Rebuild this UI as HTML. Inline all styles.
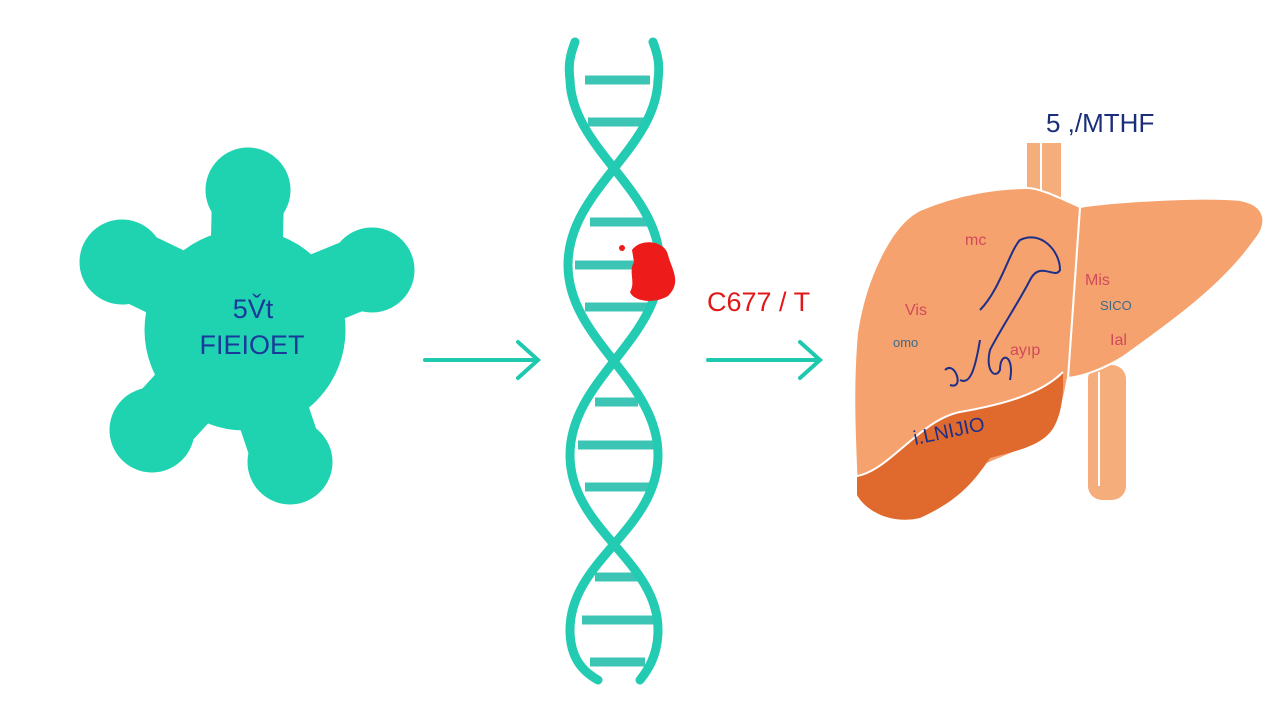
<!DOCTYPE html>
<html><head><meta charset="utf-8"><style>
html,body{margin:0;padding:0;background:#fff;}
svg{display:block;}
text{font-family:"Liberation Sans",sans-serif;}
</style></head><body>
<svg width="1280" height="720" viewBox="0 0 1280 720" xmlns="http://www.w3.org/2000/svg">
<rect width="1280" height="720" fill="#fff"/>
<!-- blob -->
<g fill="#1fd3b1" stroke="#1fd3b1" stroke-linecap="round">
  <circle cx="248" cy="190" r="42"/>
  <circle cx="122" cy="262" r="42"/>
  <circle cx="372" cy="270" r="42"/>
  <circle cx="152" cy="430" r="42"/>
  <circle cx="290" cy="462" r="42"/>
  <circle cx="245" cy="330" r="100"/>
  <line x1="245" y1="320" x2="248" y2="195" stroke-width="72"/>
  <line x1="245" y1="320" x2="125" y2="262" stroke-width="72"/>
  <line x1="245" y1="320" x2="368" y2="270" stroke-width="72"/>
  <line x1="245" y1="330" x2="155" y2="428" stroke-width="72"/>
  <line x1="245" y1="330" x2="288" y2="458" stroke-width="72"/>
</g>
<text x="253" y="318" font-size="27" fill="#1a3a9a" text-anchor="middle">5V̌t</text>
<text x="252" y="354" font-size="27" fill="#1a3a9a" text-anchor="middle">FIEIOET</text>
<!-- arrows -->
<g stroke="#1fc9ad" stroke-width="4" fill="none" stroke-linecap="round">
  <line x1="425" y1="360" x2="538" y2="360"/>
  <polyline points="518,342 538,360 518,378"/>
  <line x1="708" y1="360" x2="820" y2="360"/>
  <polyline points="800,342 820,360 800,378"/>
</g>
<!-- DNA rungs -->
<g stroke="#3cc4b4" stroke-width="9">
  <line x1="585" y1="80" x2="650" y2="80"/>
  <line x1="588" y1="122" x2="645" y2="122"/>
  <line x1="590" y1="222" x2="650" y2="222"/>
  <line x1="575" y1="265" x2="660" y2="265"/>
  <line x1="585" y1="307" x2="650" y2="307"/>
  <line x1="595" y1="402" x2="638" y2="402"/>
  <line x1="578" y1="445" x2="655" y2="445"/>
  <line x1="585" y1="487" x2="650" y2="487"/>
  <line x1="595" y1="577" x2="640" y2="577"/>
  <line x1="582" y1="620" x2="655" y2="620"/>
  <line x1="590" y1="662" x2="645" y2="662"/>
</g>
<g stroke="#22cbb2" stroke-width="9" fill="none" stroke-linecap="round">
  <path d="M575,42 C570,55 568,65 570,80 C572,150 660,190 660,265 C660,340 570,380 570,455 C570,530 658,560 658,630 C658,655 648,670 640,680"/>
  <path d="M653,42 C658,55 660,65 658,80 C656,150 568,190 568,265 C568,340 658,380 658,455 C658,530 570,560 570,630 C570,655 580,670 598,680"/>
</g>
<!-- mutation -->
<path d="M632,250 C640,238 665,240 668,255 C672,270 682,282 668,296 C655,304 634,302 630,292 C636,282 628,272 634,262 Z" fill="#ee1b1b"/>
<circle cx="622" cy="248" r="3" fill="#ee1b1b"/>
<text x="707" y="311" font-size="27" fill="#e01818">C677 / T</text>
<!-- liver -->
<rect x="1088" y="365" width="38" height="135" rx="14" fill="#f6ad7c"/>
<line x1="1099" y1="372" x2="1099" y2="486" stroke="#fff" stroke-width="2"/>
<rect x="1027" y="143" width="34" height="66" fill="#f6ad7c"/>
<line x1="1041" y1="143" x2="1041" y2="205" stroke="#fff" stroke-width="2"/>
<path d="M1080,207 C1110,202 1200,196 1240,200 C1268,205 1268,225 1255,240 C1220,290 1160,330 1123,357 C1105,368 1085,376 1068,378 Z" fill="#f6a26f" stroke="#fff" stroke-width="2"/>
<path d="M1080,207 C1060,198 1040,188 1027,188 C1000,188 960,193 920,210 C890,225 865,280 857,333 C852,390 855,440 857,490 C865,510 890,520 910,515 C940,505 960,495 975,470 C1000,455 1040,450 1057,417 C1065,400 1066,385 1068,378 Z" fill="#f6a26f" stroke="#fff" stroke-width="2"/>
<path d="M857,476 C890,470 920,420 960,412 C1000,405 1040,395 1063,372 C1064,400 1060,415 1055,425 C1045,445 1020,450 990,458 C975,480 960,500 920,518 C890,525 865,510 857,495 Z" fill="#e06a2d"/>
<path d="M857,476 C890,470 920,420 960,412 C1000,405 1040,395 1063,372" stroke="#fff" stroke-width="2" fill="none"/>
<text x="1046" y="132" font-size="26" fill="#1b2e7a">5 ,/MTHF</text>
<g fill="none" stroke="#1e2f8a" stroke-width="2">
  <path d="M980,310 C1000,290 1010,250 1020,240 C1040,230 1060,250 1060,270 C1055,280 1040,260 1030,280 C1020,300 1000,330 990,350 C985,370 995,380 1000,370 C1000,350 1015,355 1010,380 M980,340 C975,370 970,385 960,380 M945,370 C955,360 965,390 950,385"/>
</g>
<g font-size="16" fill="#d04a5a">
  <text x="965" y="245">mc</text>
  <text x="905" y="315">Vis</text>
  <text x="1010" y="355">ayıp</text>
  <text x="1085" y="285">Mis</text>
  <text x="1110" y="345">Ial</text>
</g>
<text x="893" y="347" font-size="13" fill="#3a6a8a">omo</text>
<text x="1100" y="310" font-size="13" fill="#3a6a8a">SICO</text>
<text x="915" y="445" font-size="20" fill="#1e2f8a" transform="rotate(-12 915 445)">i.LNIJIO</text>
</svg>
</body></html>
